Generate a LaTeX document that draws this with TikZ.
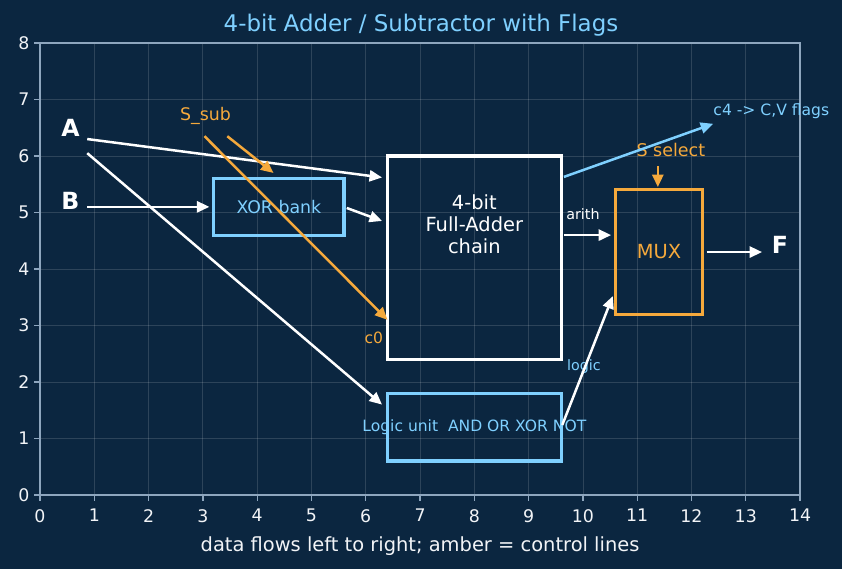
\documentclass[tikz,border=0pt]{standalone}
\usepackage{fontspec}
\setmainfont{DejaVu Sans}
\usetikzlibrary{arrows.meta}
\definecolor{bg}{HTML}{0B2640}
\definecolor{lblue}{HTML}{7FD0FF}
\definecolor{amber}{HTML}{F5A93C}
\definecolor{spine}{HTML}{8EA6BE}
\definecolor{ticktxt}{HTML}{F2F4F7}
\tikzset{
  fsz/.style={font=\fontsize{#1}{#1}\selectfont},
  fszb/.style={font=\fontsize{#1}{#1}\selectfont\bfseries},
  boxw/.style={draw=#1, line width=2.3pt, inner sep=0pt},
  conn/.style={draw=#1, line width=1.8pt, -{Triangle[length=9pt,width=8pt]}},
  lbl/.style={inner sep=0pt, text=#1},
}
\begin{document}
\begin{tikzpicture}
\fill[bg] (0,0) rectangle (606.24pt,409.68pt);
\useasboundingbox (0,0) rectangle (606.24pt,409.68pt);
\node[lbl=lblue, fsz=16.5] (title) at (303.1pt,391.5pt) {4-bit Adder / Subtractor with Flags};
\begin{scope}[shift={(28.8pt,53.28pt)}, x=39.09pt, y=40.68pt]
  % grid
  \foreach \i in {1,...,13} \draw[white, opacity=0.14, line width=0.6pt] (\i,0) -- (\i,8);
  \foreach \j in {1,...,7} \draw[white, opacity=0.14, line width=0.6pt] (0,\j) -- (14,\j);
  % spines
  \draw[spine, line width=0.9pt] (0,0) rectangle (14,8);
  \foreach \i in {0,...,14} {
    \draw[spine, line width=0.9pt] (\i,0) -- ++(0,-4pt);
    \node[lbl=ticktxt, fsz=12.5, anchor=north] (xt\i) at ([yshift=-10pt]\i,0) {\i};
  }
  \foreach \j in {0,...,8} {
    \draw[spine, line width=0.9pt] (0,\j) -- ++(-4pt,0);
    \node[lbl=ticktxt, fsz=12.5, anchor=east] (yt\j) at ([xshift=-7.5pt]0,\j) {\j};
  }
  \node[lbl=ticktxt, fsz=14] (xlab) at (7,-0.91) {data flows left to right; amber = control lines};

  % boxes
  \node[boxw=white, minimum width=125.1pt, minimum height=146.4pt] (fa) at (8,4.2) {};
  \node[lbl=white, align=center, font=\fontsize{14}{15.8}\selectfont] (fatxt) at (8,4.79) {4-bit\\Full-Adder\\chain};
  \node[boxw=lblue, minimum width=93.8pt, minimum height=40.7pt] (xor) at (4.4,5.1) {};
  \node[lbl=lblue, fsz=12.5] (xortxt) at (4.4,5.1) {XOR bank};
  \node[boxw=lblue, minimum width=125.1pt, minimum height=48.8pt] (lu) at (8,1.2) {};
  \node[lbl=lblue, fsz=11.2] (lutxt) at (8,1.2) {Logic unit\ \ AND OR XOR NOT};
  \node[boxw=amber, minimum width=62.5pt, minimum height=89.5pt] (mux) at (11.4,4.3) {};
  \node[lbl=amber, fsz=14] (muxtxt) at (11.4,4.3) {MUX};

  % labels
  \node[lbl=white, fszb=17] (A) at (0.56,6.5) {A};
  \node[lbl=white, fszb=17] (B) at (0.56,5.2) {B};
  \node[lbl=white, fszb=17] (F) at (13.63,4.42) {F};
  \node[lbl=amber, fsz=12.5] (ssub) at (3.05,6.7) {S\_sub};
  \node[lbl=amber, fsz=12.6] (ssel) at (11.62,6.1) {S select};
  \node[lbl=lblue, fsz=11.2, anchor=west] (flags) at (12.4,6.8) {c4 -> C,V flags};
  \node[lbl=white, fsz=10.3] (arith) at (10.0,4.97) {arith};
  \node[lbl=lblue, fsz=10.3] (logic) at (10.02,2.27) {logic};
  \node[lbl=amber, fsz=11.2] (c0) at (6.15,2.78) {c0};

  % connector endpoints
  \coordinate (aS1) at (0.87,6.3);  \coordinate (aE1) at (6.3,5.62);
  \coordinate (aS2) at (0.87,6.05); \coordinate (aE2) at (6.3,1.6);
  \coordinate (bS) at (0.87,5.1);   \coordinate (bE) at (3.12,5.1);
  \coordinate (xS) at (5.65,5.08);  \coordinate (xE) at (6.3,4.85);
  \coordinate (sS1) at (3.45,6.35); \coordinate (sE1) at (4.3,5.7);
  \coordinate (sS2) at (3.03,6.35); \coordinate (sE2) at (6.4,3.1);
  \coordinate (arS) at (9.65,4.6);  \coordinate (arE) at (10.52,4.6);
  \coordinate (cS) at (9.65,5.63);  \coordinate (cE) at (12.4,6.57);
  \coordinate (lS) at (9.62,1.24);  \coordinate (lE) at (10.55,3.52);
  \coordinate (msS) at (11.38,5.82);\coordinate (msE) at (11.38,5.45);
  \coordinate (fS) at (12.28,4.3);  \coordinate (fE) at (13.3,4.3);

  % connectors
  \draw[conn=white] (aS1) -- (aE1);
  \draw[conn=white] (aS2) -- (aE2);
  \draw[conn=white] (bS) -- (bE);
  \draw[conn=white] (xS) -- (xE);
  \draw[conn=amber] (sS1) -- (sE1);
  \draw[conn=amber] (sS2) -- (sE2);
  \draw[conn=white] (arS) -- (arE);
  \draw[conn=lblue] (cS) -- (cE);
  \draw[conn=white] (lS) -- (lE);
  \draw[conn=amber] (msS) -- (msE);
  \draw[conn=white] (fS) -- (fE);
\end{scope}
\end{tikzpicture}
\end{document}
